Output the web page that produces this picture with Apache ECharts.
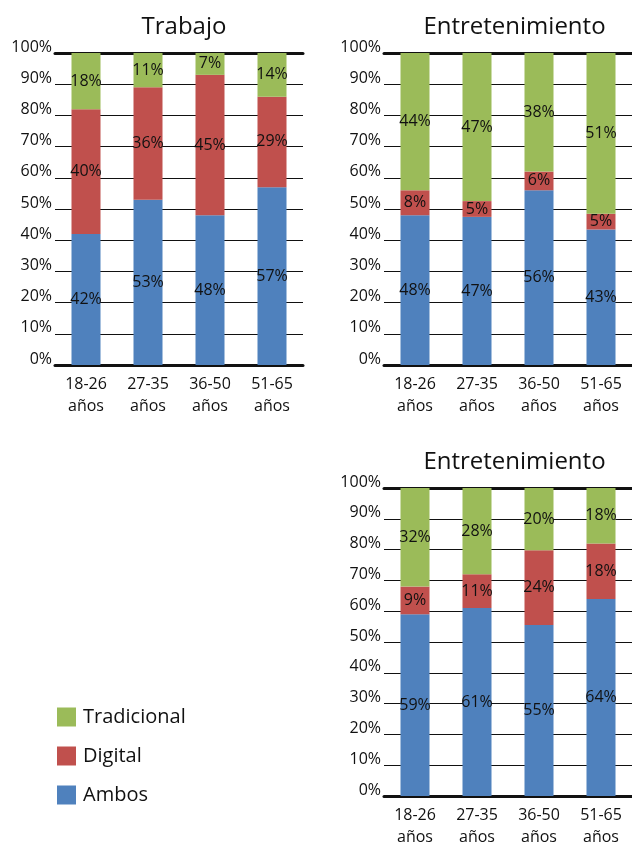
<!DOCTYPE html>
<html>
<head>
<meta charset="utf-8">
<script src="https://cdn.jsdelivr.net/npm/echarts@6/dist/echarts.min.js"></script>
<style>
  html, body { margin: 0; padding: 0; background: #fff; }
  #chart { width: 632px; height: 848px; }
</style>
</head>
<body>
<div id="chart"></div>
<script>
const FONT = "'Open Sans', sans-serif";

const categories = ["18-26\naños", "27-35\naños", "36-50\naños", "51-65\naños"];
const seriesNames = ["Ambos", "Digital", "Tradicional"];
const colors = { Ambos: "#4f81bd", Digital: "#c0504d", Tradicional: "#9bbb59" };

const panelTitles = ["Trabajo", "Entretenimiento", "Entretenimiento"];

const trabajoAmbos = [42, 53, 48, 57];
const trabajoDigital = [40, 36, 45, 29];
const trabajoTradicional = [18, 11, 7, 14];

const entret1Ambos = [48, 47, 56, 43];
const entret1Digital = [8, 5, 6, 5];
const entret1Tradicional = [44, 47, 38, 51];

const entret2Ambos = [59, 61, 55, 64];
const entret2Digital = [9, 11, 24, 18];
const entret2Tradicional = [32, 28, 20, 18];

const yTicks = [0, 10, 20, 30, 40, 50, 60, 70, 80, 90, 100];

const panels = [
  { title: panelTitles[0], data: [trabajoAmbos, trabajoDigital, trabajoTradicional] },
  { title: panelTitles[1], data: [entret1Ambos, entret1Digital, entret1Tradicional] },
  { title: panelTitles[2], data: [entret2Ambos, entret2Digital, entret2Tradicional] },
];

// layout boxes (pixels)
const boxes = [
  { left: 55, top: 53, width: 248, height: 312, titleTop: 10 },
  { left: 384, top: 53, width: 251, height: 312, titleTop: 10 },
  { left: 384, top: 488, width: 251, height: 311, titleTop: 445 },
];

const chart = echarts.init(document.getElementById("chart"), null, { renderer: "canvas" });

const option = {
  backgroundColor: "#fff",
  animation: false,
  textStyle: { fontFamily: FONT },
  title: [],
  grid: [],
  xAxis: [],
  yAxis: [],
  series: [],
  legend: {
    orient: "vertical",
    left: 52,
    top: 702,
    itemWidth: 19,
    itemHeight: 19,
    itemGap: 19,
    icon: "rect",
    data: ["Tradicional", "Digital", "Ambos"],
    textStyle: { fontFamily: FONT, fontSize: 20, color: "#111", padding: [0, 0, 0, 2] },
  },
};

panels.forEach((p, i) => {
  const b = boxes[i];
  // 100% stacked: each bar is drawn as share of its column total
  const totals = categories.map((_, j) => p.data.reduce((s, arr) => s + arr[j], 0));
  option.title.push({
    text: p.title,
    left: b.left + b.width / 2,
    top: b.titleTop,
    textAlign: "center",
    textStyle: { fontFamily: FONT, fontSize: 24, fontWeight: "normal", color: "#111" },
  });
  option.grid.push({ left: b.left, top: b.top, width: b.width, height: b.height });
  option.xAxis.push({
    type: "category",
    gridIndex: i,
    data: categories,
    axisLine: { lineStyle: { color: "#111", width: 3 } },
    axisTick: { show: false },
    axisLabel: { color: "#111", fontSize: 16, lineHeight: 22, margin: 8, fontFamily: FONT },
  });
  option.xAxis.push({
    type: "category",
    gridIndex: i,
    position: "top",
    data: categories,
    axisLine: { lineStyle: { color: "#111", width: 3 } },
    axisTick: { show: false },
    axisLabel: { show: false },
  });
  option.yAxis.push({
    type: "value",
    gridIndex: i,
    min: 0,
    max: 100,
    interval: 10,
    axisLine: { show: false },
    axisTick: { show: false },
    splitLine: { lineStyle: { color: "#111", width: 1 } },
    axisLabel: {
      color: "#111",
      fontSize: 16,
      margin: 3,
      verticalAlign: "bottom",
      lineHeight: 12,
      fontFamily: FONT,
      formatter: (v) => (yTicks.includes(v) ? v + "%" : ""),
    },
  });
  seriesNames.forEach((name, k) => {
    const raw = p.data[k];
    option.series.push({
      name,
      type: "bar",
      stack: "s" + i,
      xAxisIndex: i * 2,
      yAxisIndex: i,
      barWidth: 29,
      data: raw.map((v, j) => (v / totals[j]) * 100),
      itemStyle: { color: colors[name] },
      label: {
        show: true,
        position: "inside",
        formatter: (prm) => raw[prm.dataIndex] + "%",
        color: "#111",
        fontSize: 16,
        fontFamily: FONT,
      },
    });
  });
});

chart.setOption(option);
</script>
</body>
</html>
